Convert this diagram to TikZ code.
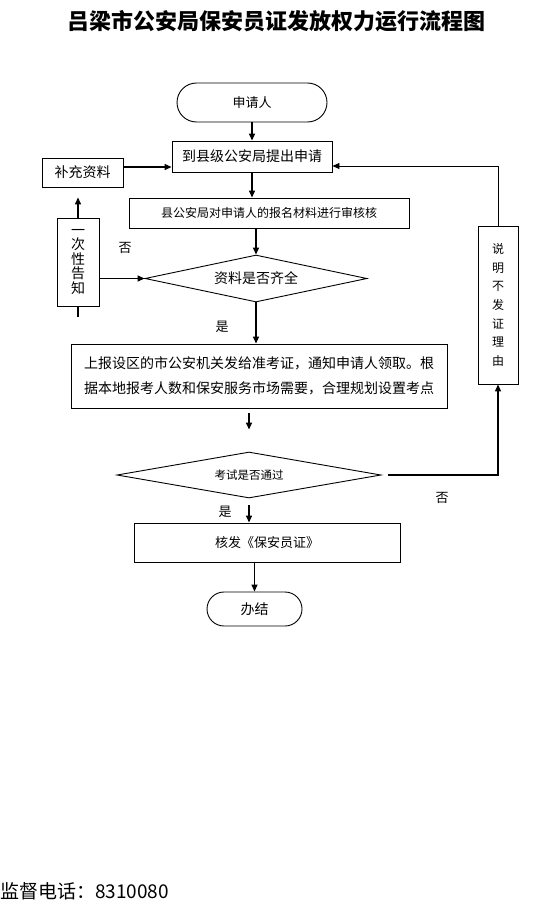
\documentclass[tikz,border=0pt]{standalone}
\usepackage{fontspec}
\setmainfont{Noto Sans CJK SC}
\usetikzlibrary{arrows.meta,shapes.geometric}
\newcommand{\setfs}[2]{\fontsize{#1}{#2}\selectfont}
\tikzset{
	box/.style={draw, line width=0.9pt, inner sep=0pt, align=center},
	endbox/.style={box, rounded corners=#1},
	choice/.style={draw, diamond, line width=0.9pt, inner sep=0pt, aspect=#1},
	arr/.style={line width=1.3pt, -{Triangle[length=7pt,width=6pt]}},
	thin arr/.style={line width=0.9pt, -{Triangle[length=7pt,width=6pt]}},
	lbl/.style={inner sep=0pt, font=\setfs{13}{15}}
}

\begin{document}
\begin{tikzpicture}[x=1pt,y=-1pt]
			%%%%% START %%%%%
			\useasboundingbox (0,0) rectangle (554,915);
			
			\node[font=\setfs{22}{24}\bfseries] (title) at (276.5,21) {吕梁市公安局保安员证发放权力运行流程图};
			
			\node[endbox=19.5pt, minimum width=150pt, minimum height=39pt, font=\setfs{13}{15}] (apply) at (252,102.5) {申请人};
			\node[box, minimum width=160pt, minimum height=31pt, font=\setfs{14}{16}] (submit) at (252,156.5) {到县级公安局提出申请};
			\node[box, minimum width=81pt, minimum height=29pt, font=\setfs{14}{16}] (supply) at (82.5,172.5) {补充资料};
			\node[box, minimum width=280pt, minimum height=30pt, font=\setfs{12}{14}] (review) at (269,213) {县公安局对申请人的报名材料进行审核核};
			\node[choice=4.72, minimum width=222pt, minimum height=47pt, font=\setfs{14}{16}] (check) at (256,278.5) {资料是否齐全};
			\node[box, minimum width=42pt, minimum height=88pt, font=\setfs{14}{14.5}] (notify) at (78,262) {一\\次\\性\\告\\知};
			\coordinate (stub) at (78,317);
			
			\node[box, minimum width=376pt, minimum height=64pt, font=\setfs{14}{25}] (report) at (259,376) {上报设区的市公安机关发给准考证，通知申请人领取。根\\据本地报考人数和保安服务市场需要，合理规划设置考点};
			\node[choice=5.74, minimum width=264pt, minimum height=46pt, font=\setfs{11.5}{13}] (exam) at (249,475) {考试是否通过};
			\node[box, minimum width=40pt, minimum height=158pt, font=\setfs{12}{18.7}] (reason) at (498,305) {说\\明\\不\\发\\证\\理\\由};
			
			\node[box, minimum width=266pt, minimum height=39pt, font=\setfs{13}{15}] (issue) at (267,542.5) {核发《保安员证》};
			\node[endbox=17pt, minimum width=95pt, minimum height=34pt, font=\setfs{14}{16}] (finish) at (254.5,609) {办结};
			
			\node[lbl] (no1) at (125,248) {否};
			\node[lbl] (yes1) at (222,327) {是};
			\node[lbl] (no2) at (442,498) {否};
			\node[lbl] (yes2) at (225,512) {是};
			
			\node[anchor=west, inner sep=0pt, font=\setfs{19}{21}] (phone) at (0,891) {监督电话：8310080};
			
			% main line
			\draw[arr] (apply.south) -- (submit.north);
			\draw[arr] (submit.south) -- (submit.south |- review.north);
			\draw[arr] (check.north |- review.south) -- (check.north);
			\draw[arr] (check.south) -- (check.south |- report.north);
			\draw[arr, shorten <=5pt, shorten >=22pt] (report.south -| exam.north) -- (exam.north);
			\draw[arr, shorten <=7pt] (exam.south) -- (exam.south |- issue.north);
			\draw[arr] (finish.north |- issue.south) -- (finish.north);
			
			% incomplete papers
			\draw[arr] (notify.east |- check.west) -- (check.west);
			\draw[arr, shorten >=10pt] (notify.north) -- (notify.north |- supply.south);
			\draw[arr] ([yshift=5.5pt]supply.east) -- ([yshift=5.5pt]supply.east -| submit.west);
			\draw[line width=1.3pt] (notify.south) -- (stub);
			
			% exam failed
			\draw[arr, shorten <=7pt] (exam.east) -| (reason.south);
			\draw[thin arr] (reason.north) |- ([yshift=-9.5pt]submit.east);
			
			%%%%% END %%%%%
\end{tikzpicture}
\end{document}
